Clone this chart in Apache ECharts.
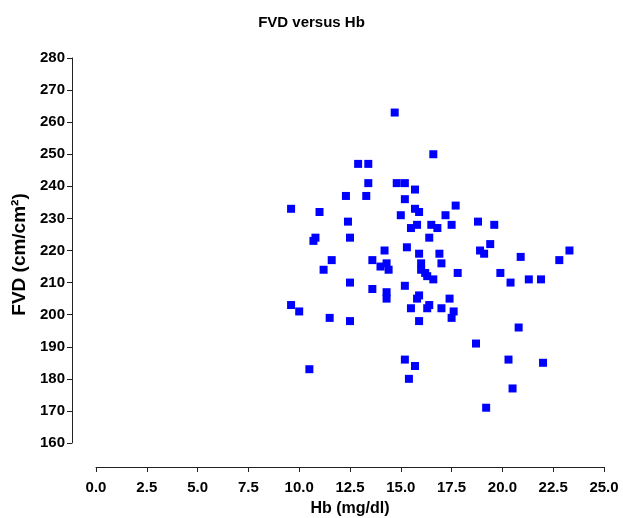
<!DOCTYPE html>
<html>
<head>
<meta charset="utf-8">
<script src="https://cdn.jsdelivr.net/npm/echarts@6/dist/echarts.min.js"></script>
<style>
html,body{margin:0;padding:0;background:#fff;}
#chart{width:623px;height:518px;}
</style>
</head>
<body>
<div id="chart"></div>
<script>
var hb = [9.6, 9.6, 10.0, 10.5, 10.7, 10.8, 11.0, 11.2, 11.6, 11.5,
  12.3, 12.4, 12.5, 12.5, 12.5, 12.9, 13.3, 13.4, 13.4, 13.6,
  13.6, 14.0, 14.2, 14.3, 14.4, 14.3, 14.3, 14.7, 14.8, 15.0,
  15.2, 15.2, 15.3, 15.2, 15.2, 15.4, 15.5, 15.5, 15.7, 15.7,
  15.7, 15.8, 15.8, 15.9, 15.9, 15.9, 15.9, 16.0, 16.0, 16.2,
  16.3, 16.3, 16.4, 16.4, 16.5, 16.6, 16.6, 16.8, 16.9, 17.0,
  17.0, 17.2, 17.4, 17.5, 17.5, 17.6, 17.7, 17.8, 18.7, 18.8,
  18.9, 19.1, 19.2, 19.4, 19.6, 19.9, 20.3, 20.4, 20.5, 20.8,
  20.9, 21.3, 21.9, 22.0, 22.8, 23.3];
var fvd = [233, 203, 201, 183, 223, 224, 232, 214, 217, 199,
  237, 229, 224, 210, 198, 247, 237, 241, 247, 217,
  208, 215, 220, 216, 214, 207, 205, 263, 241, 231,
  241, 236, 221, 209, 186, 180, 227, 202, 239, 233,
  184, 228, 205, 232, 219, 206, 198, 216, 214, 213,
  212, 202, 224, 203, 228, 250, 211, 227, 219, 216,
  202, 231, 205, 228, 199, 201, 234, 213, 191, 229,
  220, 219, 171, 222, 228, 213, 186, 210, 177, 196,
  218, 211, 211, 185, 217, 220];
var title = "FVD versus Hb";
var xName = "Hb (mg/dl)";
var yName = "FVD (cm/cm\u00B2)";

var points = hb.map(function (v, i) { return [v, fvd[i]]; });
var font = "Liberation Sans";
var chart = echarts.init(document.getElementById('chart'));
chart.setOption({
  animation: false,
  backgroundColor: '#fff',
  title: {
    text: title, left: 'center', top: 10,
    textStyle: {fontFamily: font, fontWeight: 'bold', fontSize: 15, color: '#000'}
  },
  grid: {left: 96, right: 19, top: 58, bottom: 75, containLabel: false, outerBoundsMode: 'none'},
  xAxis: {
    type: 'value', min: 0, max: 25, interval: 2.5,
    offset: 24,
    name: xName, nameLocation: 'middle', nameGap: 34,
    nameTextStyle: {fontFamily: font, fontWeight: 'bold', fontSize: 16, color: '#000'},
    axisLine: {show: true, onZero: false, lineStyle: {color: '#222', width: 1}},
    axisTick: {show: true, length: 5, lineStyle: {color: '#222'}},
    axisLabel: {
      fontFamily: font, fontWeight: 'bold', fontSize: 15, color: '#000', margin: 13,
      formatter: function (v) { return v.toFixed(1); }
    },
    splitLine: {show: false}
  },
  yAxis: {
    type: 'value', min: 160, max: 280, interval: 10,
    offset: 24,
    name: yName, nameLocation: 'middle', nameGap: 43, nameRotate: 90,
    nameTextStyle: {fontFamily: font, fontWeight: 'bold', fontSize: 19, color: '#000', padding: [0, 8, 0, 0]},
    axisLine: {show: true, onZero: false, lineStyle: {color: '#222', width: 1}},
    axisTick: {show: true, length: 5, lineStyle: {color: '#222'}},
    axisLabel: {fontFamily: font, fontWeight: 'bold', fontSize: 15, color: '#000', margin: 7},
    splitLine: {show: false}
  },
  series: [{
    type: 'scatter',
    data: points,
    symbol: 'rect',
    symbolSize: 8,
    itemStyle: {color: '#0000FF', opacity: 1}
  }]
});
</script>
</body>
</html>
